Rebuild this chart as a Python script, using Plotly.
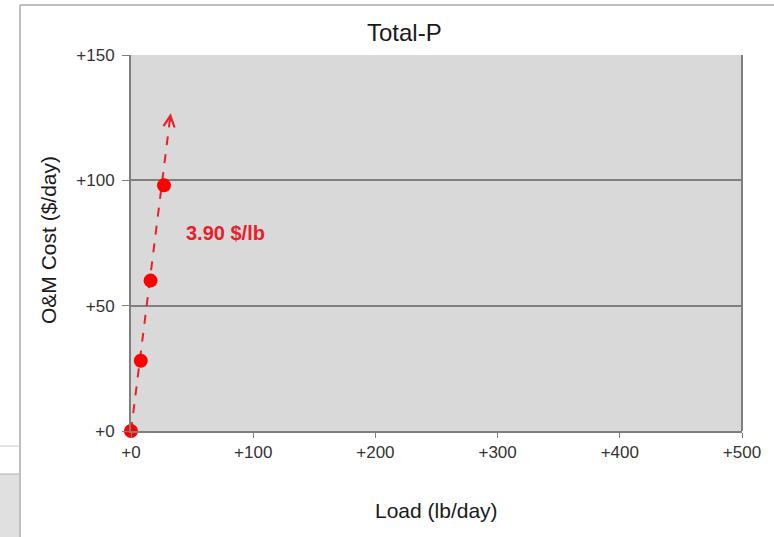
import plotly.graph_objects as go

# Data
load = [0, 8, 16, 27]
cost = [0, 28, 60, 98]
slope = 3.90
trend_x = [0, 32.5]
trend_y = [v * slope for v in trend_x]
x_ticks = [0, 100, 200, 300, 400, 500]
y_ticks = [0, 50, 100, 150]
label_text = "3.90 $/lb"
label_pos = (77, 79)

W, H = 774, 537
L, R, T, B = 131, 32, 55, 106
pw, ph = W - L - R, H - T - B

def px(xp):
    return (xp - L) / pw

def py(yp):
    return (H - B - yp) / ph

red = "#ff0000"
font = "Liberation Sans, Arial, sans-serif"
fig = go.Figure()
fig.add_trace(go.Scatter(x=trend_x, y=trend_y, mode="lines",
                         line=dict(color="#e8202a", width=2, dash="dash"),
                         hoverinfo="skip", showlegend=False, cliponaxis=False))
fig.add_trace(go.Scatter(x=load, y=cost, mode="markers",
                         marker=dict(color=red, size=14),
                         showlegend=False, cliponaxis=False))

fig.add_annotation(x=trend_x[1], y=trend_y[1], ax=trend_x[1] - 1.0, ay=trend_y[1] - 4,
                   xref="x", yref="y", axref="x", ayref="y",
                   showarrow=True, arrowhead=5, arrowsize=1.1, arrowwidth=2,
                   arrowcolor="#e8202a", text="")
fig.add_annotation(x=label_pos[0], y=label_pos[1], text="<b>" + label_text + "</b>",
                   showarrow=False, font=dict(color="#e8202a", size=20, family=font))

# axis titles
fig.add_annotation(xref="paper", yref="paper", x=px(436), y=py(510), text="Load (lb/day)",
                   showarrow=False, font=dict(size=21, color="#1a1a1a", family=font),
                   xanchor="center", yanchor="middle")
fig.add_annotation(xref="paper", yref="paper", x=px(48), y=py(240), text="O&M Cost ($/day)",
                   showarrow=False, textangle=-90, font=dict(size=21, color="#1a1a1a", family=font),
                   xanchor="center", yanchor="middle")
fig.add_annotation(xref="paper", yref="paper", x=px(404), y=py(33), text="Total-P",
                   showarrow=False, font=dict(size=24, color="#1a1a1a", family=font),
                   xanchor="center", yanchor="middle")

shapes = [
    dict(type="line", xref="paper", yref="paper", x0=px(20), x1=px(20), y0=py(5), y1=py(537),
         line=dict(color="#bfbfbf", width=2)),
    dict(type="line", xref="paper", yref="paper", x0=px(20), x1=px(774), y0=py(5), y1=py(5),
         line=dict(color="#bfbfbf", width=2)),
    dict(type="line", xref="paper", yref="paper", x0=px(0), x1=px(19), y0=py(446), y1=py(446),
         line=dict(color="#c8c8c8", width=1)),
    dict(type="rect", xref="paper", yref="paper", x0=px(0), x1=px(19), y0=py(474), y1=py(537),
         fillcolor="#e0e0e0", line=dict(width=0)),
    dict(type="line", xref="paper", yref="paper", x0=px(0), x1=px(19), y0=py(474), y1=py(474),
         line=dict(color="#b0b0b0", width=1)),
    dict(type="line", xref="paper", yref="paper", x0=1, x1=1, y0=0, y1=1,
         line=dict(color="#7f7f7f", width=2)),
]

fig.update_layout(
    width=W, height=H,
    margin=dict(l=L, r=R, t=T, b=B),
    paper_bgcolor="white",
    plot_bgcolor="#d9d9d9",
    shapes=shapes,
    font=dict(family=font, color="#333333"),
    xaxis=dict(range=[0, 500], tickvals=x_ticks, ticktext=["+%d" % v for v in x_ticks],
               showgrid=False, zeroline=False, showline=True, linecolor="#7f7f7f", linewidth=2,
               ticks="outside", ticklen=5, tickcolor="#7f7f7f",
               tickfont=dict(size=17, color="#333333")),
    yaxis=dict(range=[0, 150], tickvals=y_ticks, ticktext=["+%d" % v for v in y_ticks],
               showgrid=True, gridcolor="#808080", gridwidth=2, zeroline=False,
               showline=True, linecolor="#7f7f7f", linewidth=2,
               ticks="outside", ticklen=7, tickcolor="#7f7f7f", ticklabelstandoff=4,
               tickfont=dict(size=17, color="#333333")),
)
fig.write_html("out.html")
